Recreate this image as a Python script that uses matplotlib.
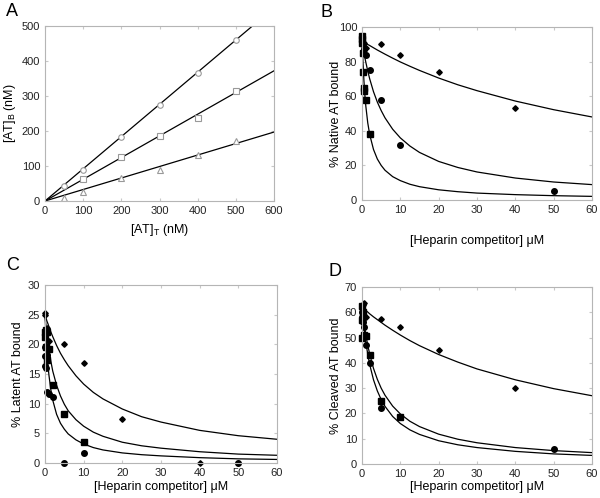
# Four-panel heparin binding figure (A: direct binding, B-D: competition)

import matplotlib.pyplot as plt

plt.rcParams['font.family'] = ['Liberation Sans', 'DejaVu Sans']

# ---- panel A: bound vs total AT ----
a_x = [50, 100, 200, 300, 400, 500]
a_circ = [42, 90, 183, 275, 367, 460]
a_sq_x = [100, 200, 300, 400, 500]
a_sq = [63, 125, 187, 237, 315]
a_tri = [8, 26, 66, 90, 130, 172]
a_line_x = [0, 600]
a_line_top = [0, 552]
a_line_mid = [0, 372]
a_line_low = [0, 197]

# ---- competition panels: fitted curves ----
curve_x = [0, 0.25, 0.5, 0.75, 1, 1.5, 2, 3, 4, 5, 6, 8, 10, 12.5, 15, 20, 25, 30, 40, 50, 60]

# B: native AT
b_dia_x = [0.1, 0.5, 1, 5, 10, 20, 40]
b_dia_y = [93, 91, 88, 90, 84, 74, 53]
b_circ_x = [0, 0.2, 0.5, 1, 2, 5, 10, 50]
b_circ_y = [92, 90, 87, 84, 75, 58, 32, 5]
b_sq_x = [0, 0, 0.1, 0.2, 0.3, 0.5, 0.6, 1, 2]
b_sq_y = [95, 93, 91, 85, 74, 65, 63, 58, 38]
b_fit_top = [92, 91.6, 91.3, 91.0, 90.6, 89.9, 89.3, 88.0, 86.7, 85.5, 84.3,
             82.0, 79.8, 77.3, 74.9, 70.5, 66.6, 63.2, 57.2, 52.2, 48.0]
b_fit_mid = [92, 88.5, 85.3, 82.3, 79.6, 74.6, 70.1, 62.6, 56.6, 51.7, 47.5,
             40.9, 35.9, 31.2, 27.5, 22.3, 18.8, 16.2, 12.7, 10.4, 8.9]
b_fit_low = [95, 80.0, 69.0, 60.7, 54.2, 44.6, 37.9, 29.2, 23.7, 20.0, 17.2,
             13.5, 11.2, 9.1, 7.7, 5.9, 4.8, 4.0, 3.1, 2.5, 2.1]

# C: latent AT
c_dia_x = [0, 0.1, 0.5, 1, 5, 10, 20, 40]
c_dia_y = [25.3, 24.9, 22.8, 20.6, 20, 16.8, 7.4, 0]
c_circ_x = [0, 0, 0.1, 0.2, 0.3, 0.4, 0.5, 1, 2, 5, 10, 50]
c_circ_y = [19.5, 18, 16.4, 19.8, 16, 18.2, 12, 11.6, 11.2, 0, 1.7, 0]
c_sq_x = [0, 0, 0.2, 0.5, 0.3, 0.5, 1, 2, 5, 10]
c_sq_y = [22, 21.3, 22.5, 22, 19.6, 17.4, 19.2, 13.2, 8.3, 3.6]
c_fit_top = [25, 24.5, 23.9, 23.5, 23.0, 22.1, 21.3, 19.8, 18.5, 17.4, 16.4,
             14.7, 13.3, 11.9, 10.8, 9.1, 7.8, 6.9, 5.5, 4.6, 4.0]
c_fit_mid = [25, 23.2, 21.7, 20.3, 19.2, 17.2, 15.5, 13.1, 11.3, 9.9, 8.8,
             7.3, 6.2, 5.2, 4.5, 3.5, 2.9, 2.5, 1.9, 1.5, 1.3]
c_fit_low = [25, 21.4, 18.7, 16.6, 14.9, 12.4, 10.6, 8.2, 6.7, 5.7, 4.9,
             3.9, 3.2, 2.6, 2.2, 1.7, 1.4, 1.2, 0.9, 0.7, 0.6]

# D: cleaved AT
d_dia_x = [0, 0.2, 0.5, 1, 5, 10, 20, 40]
d_dia_y = [62, 63, 63.5, 58, 57.5, 54, 45, 30]
d_circ_x = [0, 0.1, 0.2, 0.5, 1, 2, 5, 50]
d_circ_y = [58, 60, 56, 54, 47, 40, 22, 6]
d_sq_x = [0, 0, 0.1, 0.3, 0.5, 1, 2, 5, 10]
d_sq_y = [50, 57, 62.5, 60, 51, 50.5, 43, 25, 18.5]
d_fit_top = [62, 61.7, 61.3, 61.0, 60.7, 60.1, 59.4, 58.2, 57.1, 56.0, 54.9,
             52.9, 51.0, 48.8, 46.8, 43.3, 40.3, 37.6, 33.3, 29.8, 27.0]
d_fit_mid = [62, 58.9, 56.0, 53.4, 51.1, 47.0, 43.5, 37.8, 33.5, 30.0, 27.2,
             22.9, 19.8, 16.9, 14.8, 11.8, 9.8, 8.4, 6.5, 5.3, 4.5]
d_fit_low = [62, 57.9, 54.2, 51.0, 48.2, 43.4, 39.4, 33.3, 28.9, 25.5, 22.8,
             18.8, 16.0, 13.5, 11.7, 9.2, 7.6, 6.5, 5.0, 4.0, 3.4]

fig = plt.figure(figsize=(6, 4.98), dpi=100)


def style(ax):
    for s in ax.spines.values():
        s.set_color('#b5b5b5')
        s.set_linewidth(0.8)
    ax.tick_params(direction='in', length=2, color='#c8c8c8', labelsize=8,
                   labelcolor='#222222', top=True, right=True, pad=3.5)


# axes boxes in pixels (left, top, right, bottom) of a 600x498 canvas
boxes = {'A': (45, 26, 274, 201), 'B': (362, 27, 592, 200),
         'C': (45, 285, 277, 463), 'D': (362, 287, 592, 464)}
# label positions in axes fraction: (ylabel x, xlabel y)
label_pos = {'A': (-0.12, -0.12), 'B': (-0.085, -0.2),
             'C': (-0.09, -0.1), 'D': (-0.085, -0.096)}
axes = {}
for k, (l, t, r, b) in boxes.items():
    axes[k] = fig.add_axes([l / 600, 1 - b / 498, (r - l) / 600, (b - t) / 498])
    style(axes[k])

mk = dict(linestyle='none', color='black')
ln = dict(color='black', linewidth=0.9)

ax = axes['A']
ax.plot(a_line_x, a_line_top, **ln)
ax.plot(a_line_x, a_line_mid, **ln)
ax.plot(a_line_x, a_line_low, **ln)
ax.plot(a_x, a_circ, marker='o', ms=4, mfc='white', mec='#999999', mew=0.8, linestyle='none')
ax.plot(a_sq_x, a_sq, marker='s', ms=4.5, mfc='white', mec='#999999', mew=0.8, linestyle='none')
ax.plot(a_x, a_tri, marker='^', ms=4, mfc='white', mec='#999999', mew=0.8, linestyle='none')
ax.set_xlim(0, 600)
ax.set_ylim(0, 500)
ax.set_xticks(range(0, 601, 100))
ax.set_yticks(range(0, 501, 100))
ax.set_xlabel('[AT]$_\\mathregular{T}$ (nM)', fontsize=9)
ax.set_ylabel('[AT]$_\\mathregular{B}$ (nM)', fontsize=9)

panels = [('B', b_dia_x, b_dia_y, b_circ_x, b_circ_y, b_sq_x, b_sq_y,
           [b_fit_top, b_fit_mid, b_fit_low], 100, 20, '% Native AT bound'),
          ('C', c_dia_x, c_dia_y, c_circ_x, c_circ_y, c_sq_x, c_sq_y,
           [c_fit_top, c_fit_mid, c_fit_low], 30, 5, '% Latent AT bound'),
          ('D', d_dia_x, d_dia_y, d_circ_x, d_circ_y, d_sq_x, d_sq_y,
           [d_fit_top, d_fit_mid, d_fit_low], 70, 10, '% Cleaved AT bound')]

for key, dx, dy, cx, cy, sx, sy, fits, ymax, ystep, ylab in panels:
    ax = axes[key]
    for f in fits:
        ax.plot(curve_x, f, **ln)
    ax.plot(dx, dy, marker='D', ms=2.8, **mk)
    ax.plot(cx, cy, marker='o', ms=4, **mk)
    ax.plot(sx, sy, marker='s', ms=4, **mk)
    ax.set_xlim(0, 60)
    ax.set_ylim(0, ymax)
    ax.set_xticks(range(0, 61, 10))
    ax.set_yticks(range(0, ymax + 1, ystep))
    ax.set_xlabel('[Heparin competitor] \u03bcM', fontsize=9)
    ax.set_ylabel(ylab, fontsize=9)
    for a in ax.lines:
        a.set_clip_on(False)

for k, ax in axes.items():
    yx, xy = label_pos[k]
    ax.yaxis.set_label_coords(yx, 0.5)
    ax.xaxis.set_label_coords(0.5, xy)

for k, (x, y) in {'A': (6, 3), 'B': (321, 4), 'C': (6, 257), 'D': (328, 263)}.items():
    fig.text(x / 600, 1 - y / 498, k, fontsize=13, va='top', ha='left')

plt.savefig('out.png', dpi=100)
